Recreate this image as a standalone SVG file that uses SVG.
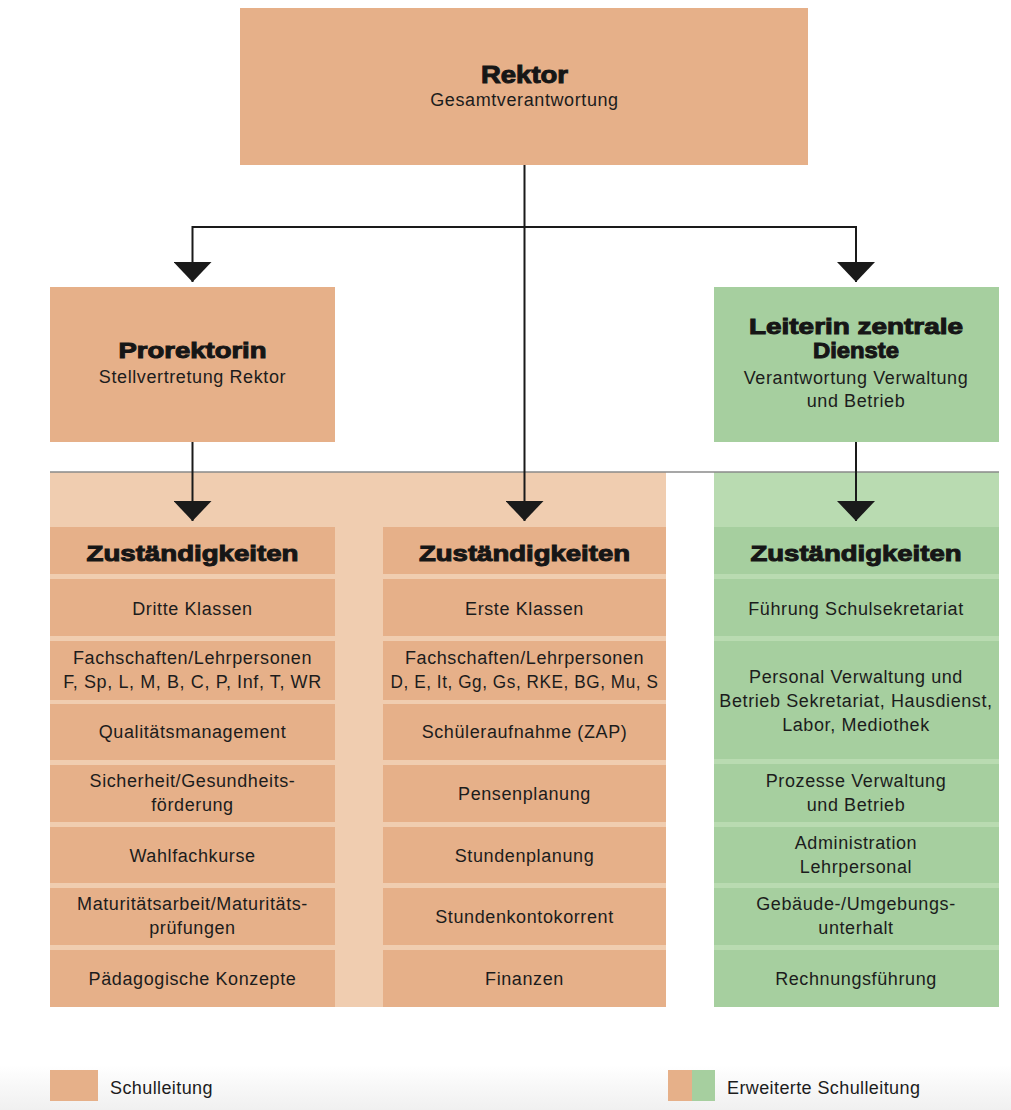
<svg xmlns="http://www.w3.org/2000/svg" width="1011" height="1110" viewBox="0 0 1011 1110">
<defs>
<style>
.or{fill:#e6b089}
.gr{fill:#a6cf9f}
.bandO{fill:#f0cdb0}
.bandG{fill:#b9dbb1}
.t{font-family:"Liberation Sans",Arial,sans-serif;font-size:18px;letter-spacing:0.6px;fill:#1c1c1c;text-anchor:middle}
.b{font-family:"Liberation Sans",Arial,sans-serif;font-weight:bold;fill:#161616;stroke:#161616;stroke-width:1px;text-anchor:middle}
.conn{stroke:#1a1a1a;stroke-width:2;fill:none}
.lg{font-family:"Liberation Sans",Arial,sans-serif;font-size:18px;letter-spacing:0.4px;fill:#1c1c1c}
</style>
<marker id="ah" viewBox="0 0 20 38" refX="20" refY="19" markerWidth="20" markerHeight="38" markerUnits="userSpaceOnUse" orient="auto">
<path d="M0,0 L20,19 L0,38 Z" fill="#1a1a1a"/>
</marker>
<linearGradient id="fade" x1="0" y1="0" x2="0" y2="1">
<stop offset="0" stop-color="#ffffff"/>
<stop offset="1" stop-color="#f0f0f0"/>
</linearGradient>
</defs>
<rect x="0" y="0" width="1011" height="1110" fill="#ffffff"/>
<rect x="0" y="1065" width="1011" height="45" fill="url(#fade)"/>

<g id="rektor">
<rect class="or" x="240" y="8" width="568" height="157"/>
<text class="b" x="524.5" y="83" font-size="24" textLength="87" lengthAdjust="spacingAndGlyphs">Rektor</text>
<text class="t" x="524.5" y="106" letter-spacing="1">Gesamtverantwortung</text>
</g>

<g id="prorektorin">
<rect class="or" x="50" y="287" width="285" height="155"/>
<text class="b" x="192.5" y="358" font-size="22" textLength="148" lengthAdjust="spacingAndGlyphs">Prorektorin</text>
<text class="t" x="192.5" y="383">Stellvertretung Rektor</text>
</g>

<g id="leiterin">
<rect class="gr" x="714" y="287" width="285" height="155"/>
<text class="b" x="856" y="334" font-size="22" textLength="214" lengthAdjust="spacingAndGlyphs">Leiterin zentrale</text>
<text class="b" x="856" y="358" font-size="22" textLength="86" lengthAdjust="spacingAndGlyphs">Dienste</text>
<text class="t" x="856" y="384">Verantwortung Verwaltung</text>
<text class="t" x="856" y="407">und Betrieb</text>
</g>

<g id="bands">
<rect class="bandO" x="50" y="472" width="616" height="535"/>
<rect class="bandG" x="714" y="472" width="285" height="535"/>
<line x1="50" y1="472" x2="999" y2="472" stroke="#8a8a8a" stroke-width="1.5"/>
</g>

<g id="col-left">
<rect class="or" x="50" y="527" width="285" height="47"/>
<text class="b" x="192.5" y="561" font-size="22" textLength="212" lengthAdjust="spacingAndGlyphs">Zuständigkeiten</text>
<rect class="or" x="50" y="579" width="285" height="57"/>
<text class="t" x="192.5" y="615">Dritte Klassen</text>
<rect class="or" x="50" y="641" width="285" height="59"/>
<text class="t" x="192.5" y="664">Fachschaften/Lehrpersonen</text>
<text class="t" x="192.5" y="688">F, Sp, L, M, B, C, P, Inf, T, WR</text>
<rect class="or" x="50" y="704" width="285" height="56"/>
<text class="t" x="192.5" y="738">Qualitätsmanagement</text>
<rect class="or" x="50" y="765" width="285" height="57"/>
<text class="t" x="192.5" y="787">Sicherheit/Gesundheits-</text>
<text class="t" x="192.5" y="811">förderung</text>
<rect class="or" x="50" y="827" width="285" height="56"/>
<text class="t" x="192.5" y="862">Wahlfachkurse</text>
<rect class="or" x="50" y="888" width="285" height="57"/>
<text class="t" x="192.5" y="910">Maturitätsarbeit/Maturitäts-</text>
<text class="t" x="192.5" y="934">prüfungen</text>
<rect class="or" x="50" y="950" width="285" height="57"/>
<text class="t" x="192.5" y="985">Pädagogische Konzepte</text>
</g>

<g id="col-middle">
<rect class="or" x="383" y="527" width="283" height="47"/>
<text class="b" x="524.5" y="561" font-size="22" textLength="211" lengthAdjust="spacingAndGlyphs">Zuständigkeiten</text>
<rect class="or" x="383" y="579" width="283" height="57"/>
<text class="t" x="524.5" y="615">Erste Klassen</text>
<rect class="or" x="383" y="641" width="283" height="59"/>
<text class="t" x="524.5" y="664">Fachschaften/Lehrpersonen</text>
<text class="t" x="524.5" y="688" letter-spacing="0" textLength="268" lengthAdjust="spacingAndGlyphs">D, E, It, Gg, Gs, RKE, BG, Mu, S</text>
<rect class="or" x="383" y="704" width="283" height="56"/>
<text class="t" x="524.5" y="738">Schüleraufnahme (ZAP)</text>
<rect class="or" x="383" y="765" width="283" height="57"/>
<text class="t" x="524.5" y="800">Pensenplanung</text>
<rect class="or" x="383" y="827" width="283" height="56"/>
<text class="t" x="524.5" y="862">Stundenplanung</text>
<rect class="or" x="383" y="888" width="283" height="57"/>
<text class="t" x="524.5" y="923">Stundenkontokorrent</text>
<rect class="or" x="383" y="950" width="283" height="57"/>
<text class="t" x="524.5" y="985">Finanzen</text>
</g>

<g id="col-right">
<rect class="gr" x="714" y="527" width="285" height="47"/>
<text class="b" x="856" y="561" font-size="22" textLength="211" lengthAdjust="spacingAndGlyphs">Zuständigkeiten</text>
<rect class="gr" x="714" y="579" width="285" height="57"/>
<text class="t" x="856" y="615">Führung Schulsekretariat</text>
<rect class="gr" x="714" y="641" width="285" height="118"/>
<text class="t" x="856" y="683">Personal Verwaltung und</text>
<text class="t" x="856" y="707">Betrieb Sekretariat, Hausdienst,</text>
<text class="t" x="856" y="731">Labor, Mediothek</text>
<rect class="gr" x="714" y="764" width="285" height="58"/>
<text class="t" x="856" y="787">Prozesse Verwaltung</text>
<text class="t" x="856" y="811">und Betrieb</text>
<rect class="gr" x="714" y="827" width="285" height="56"/>
<text class="t" x="856" y="849">Administration</text>
<text class="t" x="856" y="873">Lehrpersonal</text>
<rect class="gr" x="714" y="888" width="285" height="57"/>
<text class="t" x="856" y="910">Gebäude-/Umgebungs-</text>
<text class="t" x="856" y="934">unterhalt</text>
<rect class="gr" x="714" y="950" width="285" height="57"/>
<text class="t" x="856" y="985">Rechnungsführung</text>
</g>

<g id="connectors">
<path class="conn" d="M524.5,165 V521" marker-end="url(#ah)"/>
<path class="conn" d="M524.5,227 H192.5 V282" marker-end="url(#ah)"/>
<path class="conn" d="M524.5,227 H856 V282" marker-end="url(#ah)"/>
<path class="conn" d="M192.5,442 V521" marker-end="url(#ah)"/>
<path class="conn" d="M856,442 V521" marker-end="url(#ah)"/>
</g>

<g id="legend">
<rect class="or" x="50" y="1070" width="48" height="31"/>
<text class="lg" x="110" y="1094">Schulleitung</text>
<rect class="or" x="668" y="1070" width="24" height="31"/>
<rect class="gr" x="692" y="1070" width="23" height="31"/>
<text class="lg" x="727" y="1094">Erweiterte Schulleitung</text>
</g>
</svg>
